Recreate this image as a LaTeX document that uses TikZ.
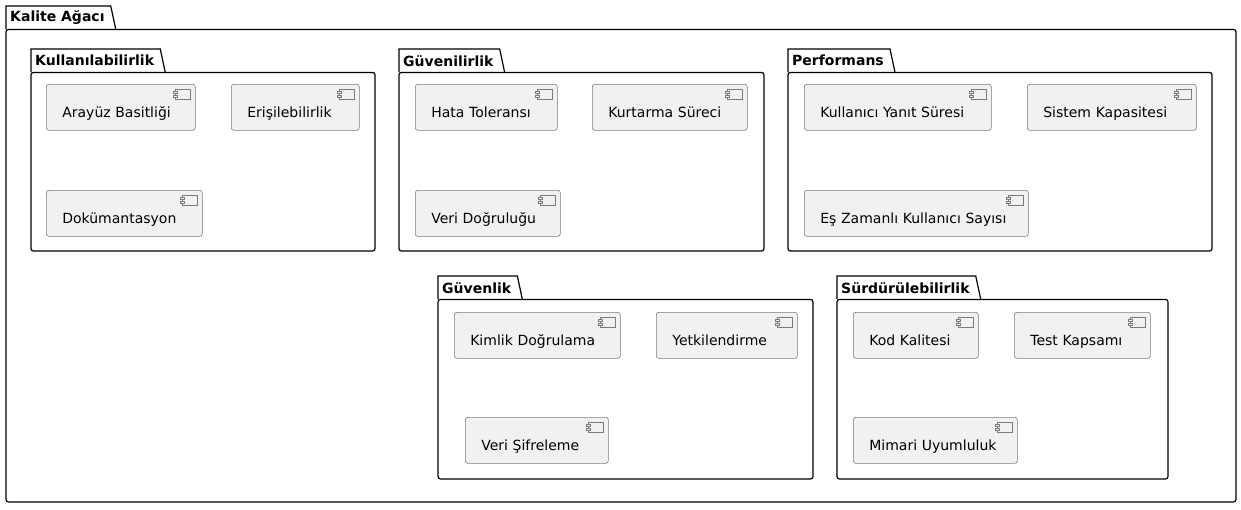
\documentclass[tikz,border=0pt]{standalone}
\usepackage{fontspec}
\setmainfont{DejaVu Sans}
\usepackage{tikz}
\usetikzlibrary{positioning}

\definecolor{compfill}{HTML}{F1F1F1}
\definecolor{compline}{HTML}{7A7A7A}

\tikzset{
  pkgline/.style   = {draw=black, line width=1.2pt},
  pkgtitle/.style  = {anchor=north west, inner xsep=4pt, inner ysep=0pt, minimum height=23pt,
                      font=\fontsize{14}{16}\selectfont\bfseries},
  component/.style = {draw=compline, fill=compfill, line width=0.6pt, rounded corners=2.5pt,
                      anchor=north west, minimum height=46pt, inner xsep=16pt, inner ysep=0pt,
                      align=left, text height=20pt, text depth=0pt,
                      font=\fontsize{14}{16}\selectfont,
                      path picture={
                        \draw [sharp corners, draw=compline, line width=0.6pt, fill=compfill]
                          ([shift={(-20pt,-5pt)}]path picture bounding box.north east) rectangle ++(15pt,-10pt);
                        \draw [sharp corners, draw=compline, line width=0.6pt, fill=compfill]
                          ([shift={(-22pt,-7pt)}]path picture bounding box.north east) rectangle ++(4pt,-2pt);
                        \draw [sharp corners, draw=compline, line width=0.6pt, fill=compfill]
                          ([shift={(-22pt,-11pt)}]path picture bounding box.north east) rectangle ++(4pt,-2pt);
                      }},
}

\begin{document}
\begin{tikzpicture}[x=1pt, y=-1pt]

\useasboundingbox (0,0) rectangle (1241,509);

% outer package
\node [pkgtitle] (kalite) at (6,6) {Kalite Ağacı};
\draw [pkgline] (kalite.south west) -- (kalite.north west) -- ([xshift=2pt]kalite.north east) -- ([xshift=7pt]kalite.south east);
\draw [pkgline, rounded corners=2.5pt] (kalite.south west) rectangle (1236,502);

% Kullanilabilirlik
\node [pkgtitle] (kullan) at (31,49) {Kullanılabilirlik};
\draw [pkgline] (kullan.south west) -- (kullan.north west) -- ([xshift=2pt]kullan.north east) -- ([xshift=7pt]kullan.south east);
\draw [pkgline, rounded corners=2.5pt] (kullan.south west) rectangle (375,251);

\node [component, text width=117pt] (arayuz)  at (46,84)  {Arayüz Basitliği};
\node [component, text width=96pt ] (erisim)  at (231,84) {Erişilebilirlik};
\node [component, text width=124pt] (dokuman) at (46,190) {Dokümantasyon};

% Guvenilirlik
\node [pkgtitle] (guvenilir) at (399,49) {Güvenilirlik};
\draw [pkgline] (guvenilir.south west) -- (guvenilir.north west) -- ([xshift=2pt]guvenilir.north east) -- ([xshift=7pt]guvenilir.south east);
\draw [pkgline, rounded corners=2.5pt] (guvenilir.south west) rectangle (764,251);

\node [component, text width=110pt] (hata)     at (415,84)  {Hata Toleransı};
\node [component, text width=123pt] (kurtarma) at (592,84)  {Kurtarma Süreci};
\node [component, text width=113pt] (veridog)  at (415,190) {Veri Doğruluğu};

% Performans
\node [pkgtitle] (perf) at (788,49) {Performans};
\draw [pkgline] (perf.south west) -- (perf.north west) -- ([xshift=2pt]perf.north east) -- ([xshift=7pt]perf.south east);
\draw [pkgline, rounded corners=2.5pt] (perf.south west) rectangle (1212,251);

\node [component, text width=155pt] (yanit)    at (804,84)  {Kullanıcı Yanıt Süresi};
\node [component, text width=137pt] (kapasite) at (1027,84) {Sistem Kapasitesi};
\node [component, text width=192pt] (eszaman)  at (804,190) {Eş Zamanlı Kullanıcı Sayısı};

% Guvenlik
\node [pkgtitle] (guvenlik) at (438,276) {Güvenlik};
\draw [pkgline] (guvenlik.south west) -- (guvenlik.north west) -- ([xshift=2pt]guvenlik.north east) -- ([xshift=7pt]guvenlik.south east);
\draw [pkgline, rounded corners=2.5pt] (guvenlik.south west) rectangle (813,479);

\node [component, text width=134pt] (kimlik) at (454,312) {Kimlik Doğrulama};
\node [component, text width=109pt] (yetki)  at (656,312) {Yetkilendirme};
\node [component, text width=111pt] (sifre)  at (465,417) {Veri Şifreleme};

% Surdurulebilirlik
\node [pkgtitle] (surdur) at (837,276) {Sürdürülebilirlik};
\draw [pkgline] (surdur.south west) -- (surdur.north west) -- ([xshift=2pt]surdur.north east) -- ([xshift=7pt]surdur.south east);
\draw [pkgline, rounded corners=2.5pt] (surdur.south west) rectangle (1168,479);

\node [component, text width=93pt ] (kod)    at (853,312)  {Kod Kalitesi};
\node [component, text width=104pt] (test)   at (1014,312) {Test Kapsamı};
\node [component, text width=132pt] (mimari) at (853,417)  {Mimari Uyumluluk};

\end{tikzpicture}
\end{document}
